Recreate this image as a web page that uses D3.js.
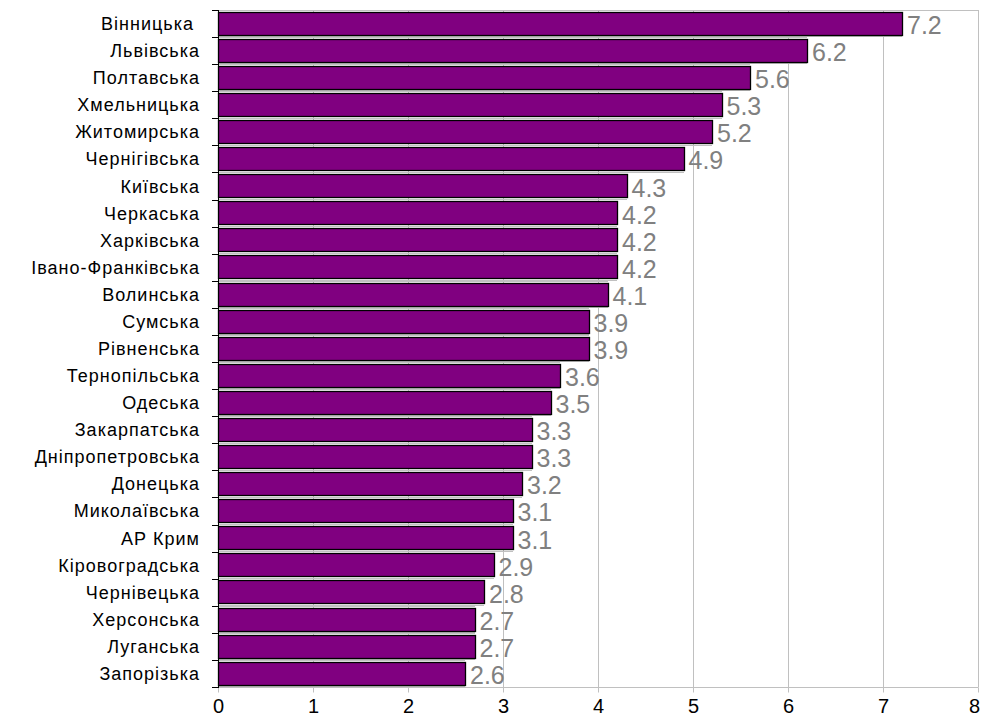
<!DOCTYPE html>
<html>
<head>
<meta charset="utf-8">
<script src="https://cdn.jsdelivr.net/npm/d3@7"></script>
<style>
  body { margin: 0; background: #fff; }
  text { font-family: Arial, "Liberation Sans", sans-serif; white-space: pre; }
</style>
</head>
<body>
<div id="chart"></div>
<script>
const regions = ["Вінницька ", "Львівська", "Полтавська", "Хмельницька", "Житомирська",
  "Чернігівська", "Київська", "Черкаська", "Харківська", "Івано-Франківська",
  "Волинська", "Сумська", "Рівненська", "Тернопільська", "Одеська",
  "Закарпатська", "Дніпропетровська", "Донецька", "Миколаївська", "АР Крим",
  "Кіровоградська", "Чернівецька", "Херсонська", "Луганська", "Запорізька"];
const values = [7.2, 6.2, 5.6, 5.3, 5.2, 4.9, 4.3, 4.2, 4.2, 4.2,
  4.1, 3.9, 3.9, 3.6, 3.5, 3.3, 3.3, 3.2, 3.1, 3.1,
  2.9, 2.8, 2.7, 2.7, 2.6];
const xTicks = [0, 1, 2, 3, 4, 5, 6, 7, 8];

const data = regions.map((r, i) => ({ name: r, value: values[i] }));

const width = 982, height = 717;
const plotLeft = 218, plotRight = 978, plotTop = 10, plotBottom = 687;
const grid = "#c0c0c0";

const svg = d3.select("#chart").append("svg")
  .attr("width", width)
  .attr("height", height);

const x = d3.scaleLinear().domain([0, 8]).range([plotLeft, plotRight]);
const y = d3.scaleBand().domain(regions).range([plotTop, plotBottom])
  .paddingInner(0.13).paddingOuter(0.065);

// vertical grid lines
svg.append("g")
  .selectAll("line")
  .data(xTicks.slice(1))
  .enter().append("line")
  .attr("x1", d => Math.round(x(d)) + 0.5)
  .attr("x2", d => Math.round(x(d)) + 0.5)
  .attr("y1", plotTop)
  .attr("y2", plotBottom)
  .attr("stroke", grid);

// top border
svg.append("line")
  .attr("x1", plotLeft).attr("x2", plotRight + 0.5)
  .attr("y1", plotTop + 0.5).attr("y2", plotTop + 0.5)
  .attr("stroke", grid);

/* gray lines above and below each bar */
const edges = svg.append("g");
data.forEach(d => {
  const yt = Math.round(y(d.name)) - 1.5;
  const yb = Math.round(y(d.name) + y.bandwidth()) + 1.5;
  [yt, yb].forEach(yy => {
    edges.append("line")
      .attr("x1", plotLeft).attr("x2", Math.round(x(d.value)))
      .attr("y1", yy).attr("y2", yy)
      .attr("stroke", grid);
  });
});

// bars
svg.append("g")
  .selectAll("rect")
  .data(data)
  .enter().append("rect")
  .attr("x", plotLeft + 0.5)
  .attr("y", d => Math.round(y(d.name)) + 0.5)
  .attr("width", d => Math.round(x(d.value)) - plotLeft)
  .attr("height", Math.round(y.bandwidth()) - 1)
  .attr("fill", "#800080")
  .attr("stroke", "#000")
  .attr("stroke-width", 1.3);

// value labels
svg.append("g")
  .selectAll("text")
  .data(data)
  .enter().append("text")
  .attr("x", d => x(d.value) + 5)
  .attr("y", d => y(d.name) + y.bandwidth() / 2 + 10.5)
  .attr("fill", "#808080")
  .attr("font-size", 25)
  .text(d => d.value.toFixed(1));

/* x axis */
const xAxis = d3.axisBottom(x).tickValues(xTicks).tickSize(5).tickFormat(d3.format("d"));
const gx = svg.append("g")
  .attr("transform", `translate(0, ${plotBottom + 0.5})`)
  .call(xAxis);
gx.select(".domain").attr("stroke", grid).attr("d", `M${plotLeft},0H${plotRight + 0.5}`);
gx.selectAll(".tick line").attr("stroke", grid);
gx.selectAll(".tick text")
  .attr("y", 11)
  .attr("dy", "0.71em")
  .attr("x", d => d === 8 ? -4 : 0)
  .attr("fill", "#000")
  .attr("font-size", 20)
  .attr("font-family", "Arial, 'Liberation Sans', sans-serif");

// right border
svg.append("line")
  .attr("x1", plotRight + 0.5).attr("x2", plotRight + 0.5)
  .attr("y1", plotTop).attr("y2", plotBottom)
  .attr("stroke", grid);

/* y axis: ticks on band boundaries */
const boundaries = regions.map(r => y(r) - y.step() * y.paddingInner() / 2);
boundaries.push(plotBottom);
const gy = svg.append("g");
gy.append("line")
  .attr("x1", plotLeft + 0.5).attr("x2", plotLeft + 0.5)
  .attr("y1", plotTop).attr("y2", plotBottom + 1)
  .attr("stroke", "#000");
gy.selectAll("line.tk")
  .data(boundaries)
  .enter().append("line")
  .attr("class", "tk")
  .attr("x1", plotLeft - 6).attr("x2", plotLeft)
  .attr("y1", d => Math.round(d) + 0.5)
  .attr("y2", d => Math.round(d) + 0.5)
  .attr("stroke", "#000");

gy.selectAll("text")
  .data(data)
  .enter().append("text")
  .attr("x", 200)
  .attr("y", d => y(d.name) + y.bandwidth() / 2 + 6.5)
  .attr("text-anchor", "end")
  .attr("font-size", 18)
  .attr("letter-spacing", 1)
  .attr("fill", "#000")
  .text(d => d.name);
</script>
</body>
</html>
